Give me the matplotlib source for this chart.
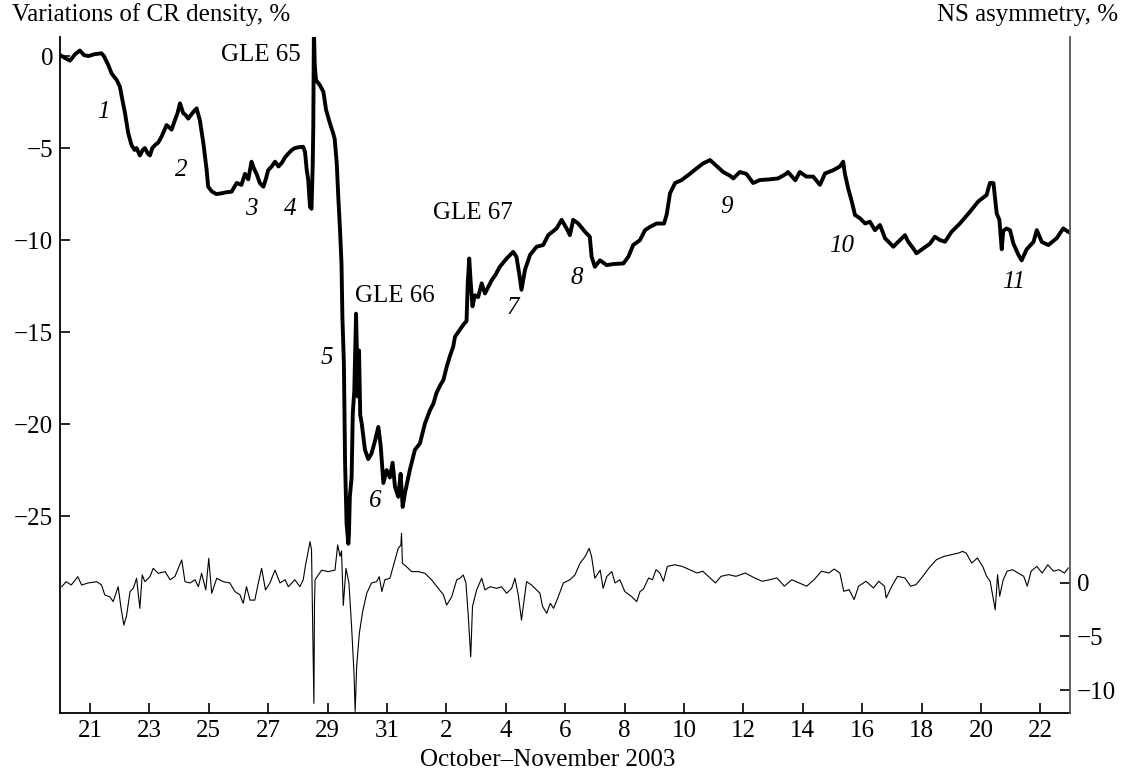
import matplotlib
matplotlib.use("Agg")
import matplotlib.pyplot as plt

# days since 20 Oct 2003 00:00
cr_day = [0.00, 0.15, 0.33, 0.5, 0.66, 0.8, 0.95, 1.15, 1.39, 1.47, 1.62, 1.73, 1.9, 2.01, 2.07,
          2.18, 2.29, 2.4, 2.5, 2.57, 2.68, 2.78, 2.85, 2.95, 3.02, 3.1, 3.19, 3.3, 3.41, 3.58,
          3.75, 3.86, 3.95, 4.03, 4.14, 4.22, 4.31, 4.45, 4.59, 4.7, 4.82, 4.93, 4.98, 5.1, 5.25,
          5.43, 5.6, 5.77, 5.94, 6.1, 6.22, 6.33, 6.44, 6.52, 6.61, 6.72, 6.84, 6.92, 7.0, 7.12,
          7.23, 7.35, 7.46, 7.57, 7.68, 7.8, 7.9, 8.05, 8.18, 8.24, 8.3, 8.35, 8.41, 8.46, 8.5,
          8.52, 8.54, 8.57, 8.61, 8.74, 8.86, 8.95, 9.08, 9.19, 9.24, 9.31, 9.36, 9.42, 9.47, 9.5,
          9.55, 9.59, 9.64, 9.7, 9.72, 9.75, 9.81, 9.85, 9.9, 9.96, 10.0, 10.02, 10.06, 10.1, 10.15,
          10.26, 10.37, 10.48, 10.6, 10.71, 10.79, 10.88, 10.99, 11.1, 11.19, 11.27, 11.38, 11.46,
          11.53, 11.6, 11.77, 11.94, 12.11, 12.28, 12.45, 12.56, 12.67, 12.79, 12.9, 13.01, 13.12,
          13.23, 13.29, 13.4, 13.57, 13.68, 13.72, 13.77, 13.82, 13.88, 13.96, 14.07, 14.19, 14.3,
          14.52, 14.65, 14.8, 15.03, 15.25, 15.36, 15.45, 15.53, 15.65, 15.82, 16.04, 16.26, 16.43,
          16.71, 16.88, 17.05, 17.16, 17.27, 17.44, 17.67, 17.83, 17.89, 18.0, 18.17, 18.4, 18.63,
          18.96, 19.13, 19.29, 19.52, 19.69, 19.86, 20.08, 20.33, 20.42, 20.53, 20.7, 20.92, 21.2,
          21.43, 21.65, 21.88, 22.05, 22.32, 22.55, 22.66, 22.88, 23.1, 23.33, 23.55, 23.89, 24.17,
          24.46, 24.5, 24.75, 24.9, 25.12, 25.35, 25.58, 25.75, 26.03, 26.25, 26.36, 26.42, 26.53,
          26.65, 26.76, 26.93, 27.1, 27.26, 27.43, 27.6, 27.77, 28.05, 28.27, 28.44, 28.55, 28.72,
          28.83, 29.06, 29.28, 29.45, 29.62, 29.79, 30.01, 30.29, 30.63, 30.91, 31.19, 31.3, 31.42,
          31.53, 31.62, 31.7, 31.75, 31.86, 31.98, 32.09, 32.26, 32.37, 32.54, 32.77, 32.88, 33.05,
          33.27, 33.55, 33.77, 33.94, 34.0]
cr_val = [0.05, -0.1, -0.25, 0.1, 0.3, 0.05, 0.0, 0.1, 0.15, 0.0, -0.5, -0.95, -1.3, -1.67, -2.2,
          -3.1, -4.2, -4.84, -5.1, -5.0, -5.4, -5.1, -5.0, -5.3, -5.4, -5.0, -4.84, -4.7, -4.38, -3.75,
          -4.0, -3.48, -3.1, -2.57, -3.1, -3.2, -3.4, -3.1, -2.84, -3.48, -4.75, -6.2, -7.1, -7.35, -7.5,
          -7.46, -7.4, -7.37, -6.9, -7.0, -6.4, -6.7, -5.74, -6.1, -6.4, -6.9, -7.1, -6.7, -6.2, -6.0,
          -5.74, -6.0, -5.8, -5.5, -5.3, -5.1, -5.0, -4.95, -4.93, -5.2, -6.2, -6.74, -8.2, -8.3, -6.0,
          -3.84, 1.5, -0.5, -1.3, -1.58, -1.94, -2.93, -3.65, -4.2, -4.5, -5.83, -7.6, -9.46, -11.3, -14.2,
          -16.7, -22.1, -25.4, -26.5, -26.0, -23.95, -22.9, -19.4, -18.2, -14.0, -17.0, -18.5, -16.0, -19.5, -19.96,
          -21.4, -21.9, -21.6, -20.9, -20.15, -21.2, -23.2, -22.5, -22.9, -22.1, -23.4, -23.95, -22.7,
          -24.5, -23.8, -22.5, -21.4, -21.05, -19.96, -19.24, -18.9, -18.3, -17.9, -17.6, -16.9, -16.3,
          -15.8, -15.26, -15.0, -14.6, -14.4, -12.35, -11.0, -12.3, -13.6, -13.0, -13.1, -12.35, -12.9,
          -12.2, -11.9, -11.45, -11.0, -10.64, -10.9, -11.8, -12.7, -11.6, -10.8, -10.36, -10.27, -9.73,
          -9.37, -8.9, -9.37, -9.73, -8.9, -9.1, -9.55, -9.82, -10.9, -11.45, -11.1, -11.36, -11.3,
          -11.27, -10.9, -10.27, -10.0, -9.46, -9.28, -9.1, -9.1, -8.6, -7.46, -6.9, -6.74, -6.4,
          -6.1, -5.83, -5.65, -5.9, -6.3, -6.5, -6.65, -6.3, -6.4, -6.9, -6.74, -6.7, -6.65,
          -6.38, -6.3, -6.75, -6.3, -6.55, -6.55, -7.0, -6.38, -6.2, -6.0, -5.74, -6.4, -7.2,
          -7.9, -8.64, -8.82, -9.1, -9.0, -9.46, -9.18, -9.9, -10.36, -10.0, -9.73, -10.09, -10.45,
          -10.72, -10.45, -10.2, -9.82, -10.0, -10.09, -9.55, -9.1, -8.46, -7.9, -7.55, -6.9, -6.9,
          -8.55, -8.9, -10.5, -9.5, -9.37, -9.46, -10.18, -10.8, -11.1, -10.5, -10.1, -9.46, -10.1,
          -10.27, -9.9, -9.37, -9.55, -9.6]

ns_day = [0.05, 0.2, 0.37, 0.59, 0.72, 0.94, 1.23, 1.39, 1.5, 1.67, 1.78, 1.95, 2.04, 2.14, 2.23,
          2.35, 2.46, 2.57, 2.68, 2.76, 2.85, 3.02, 3.13, 3.3, 3.53, 3.7, 3.86, 4.09, 4.2, 4.37,
          4.54, 4.65, 4.76, 4.9, 5.0, 5.1, 5.27, 5.49, 5.71, 5.88, 6.05, 6.16, 6.27, 6.39, 6.55,
          6.67, 6.78, 6.91, 7.06, 7.23, 7.4, 7.57, 7.68, 7.9, 8.07, 8.18, 8.26, 8.41, 8.46, 8.5,
          8.54, 8.56, 8.58, 8.8, 9.02, 9.25, 9.34, 9.42, 9.47, 9.53, 9.62, 9.72, 9.81, 9.89, 9.93,
          9.98, 10.07, 10.18, 10.32, 10.48, 10.65, 10.74, 10.83, 10.93, 11.1, 11.27, 11.38, 11.47,
          11.49, 11.52, 11.66, 11.83, 12.06, 12.28, 12.5, 12.73, 12.9, 13.01, 13.18, 13.35, 13.46,
          13.57, 13.66, 13.74, 13.82, 13.88, 14.02, 14.19, 14.3, 14.47, 14.7, 14.86, 15.03, 15.2,
          15.31, 15.42, 15.53, 15.59, 15.7, 15.87, 16.04, 16.15, 16.24, 16.38, 16.5, 16.61, 16.77,
          16.94, 17.16, 17.33, 17.5, 17.67, 17.81, 17.89, 18.0, 18.18, 18.28, 18.4, 18.57, 18.68,
          18.84, 19.01, 19.24, 19.41, 19.52, 19.63, 19.81, 19.94, 20.06, 20.19, 20.31, 20.44, 20.69,
          20.94, 21.19, 21.44, 21.63, 21.88, 22.06, 22.25, 22.5, 22.75, 23.06, 23.38, 23.63, 23.88,
          24.13, 24.38, 24.63, 24.88, 25.13, 25.38, 25.63, 25.88, 26.06, 26.25, 26.38, 26.56, 26.73,
          26.88, 27.13, 27.38, 27.56, 27.75, 27.81, 28.0, 28.19, 28.44, 28.63, 28.81, 29.0, 29.25,
          29.5, 29.75, 30.0, 30.25, 30.38, 30.5, 30.69, 30.88, 31.06, 31.19, 31.31, 31.4, 31.48,
          31.56, 31.63, 31.75, 31.88, 32.06, 32.25, 32.44, 32.56, 32.69, 32.88, 33.06, 33.25, 33.44,
          33.63, 33.81, 33.94]
ns_val = [-0.35, 0.12, -0.19, 0.59, -0.19, 0.0, 0.12, -0.19, -1.12, -1.3, -1.74, -0.35, -2.2, -3.93, -3.1,
          -0.8, -0.5, 0.44, -2.37, 0.75, 0.12, 0.59, 1.37, 0.9, 1.06, 0.3, 0.6, 2.15, 0.12, 0.0,
          0.3, -0.35, 0.9, -0.65, 2.3, -0.96, 0.44, 0.12, 0.0, -0.8, -1.1, -1.9, -0.35, -1.6, -1.6,
          0.0, 1.37, -0.65, 0.0, 1.2, 0.0, 0.3, -0.35, 0.3, -0.35, 0.3, 1.68, 3.86, 3.1, -4.08,
          -11.25, -2.0, 0.3, 1.2, 1.06, 1.2, 3.55, 2.5, 3.0, -2.1, 1.37, 0.0, -4.1, -8.4, -12.0,
          -7.8, -4.7, -2.7, -0.96, 0.0, 0.12, 0.59, -0.8, 0.3, 0.44, 2.15, 3.24, 3.55,
          4.64, 1.85, 1.52, 1.06, 1.06, 0.9, 0.3, -0.5, -1.1, -2.06, -1.3, 0.3, 0.44,
          0.75, 0.0, -3.15, -6.9, -2.2, -0.65, 0.44, -0.65, -0.35, -0.5, -0.35, -0.96, -0.5,
          0.44, -1.1, -3.46, -2.2, 0.12, -0.19, -0.65, -0.96, -2.2, -2.83, -1.9, -2.37, -1.28,
          0.0, 0.3, 0.75, 1.84, 2.46, 3.24, 2.46, 0.44, 1.2, -0.5, 0.6, 1.06, 0.0,
          0.3, -0.8, -1.28, -1.74, -0.8, -0.6, 0.47, 0.3, 1.24, 0.93, 0.16, 1.55, 1.7,
          1.55, 1.24, 0.93, 1.1, 0.47, 0.0, 0.62, 0.78, 0.62, 0.93, 0.47, 0.16, 0.3,
          0.47, -0.3, 0.3, 0.0, -0.3, 0.3, 1.1, 0.93, 1.3, 0.93, -0.78, -0.62, -1.55,
          -0.3, 0.16, -0.47, 0.16, -0.3, -1.4, -0.3, 0.62, 0.47, -0.3, -0.16, 0.47, 1.4,
          2.17, 2.48, 2.64, 2.8, 2.95, 2.8, 1.86, 2.33, 1.55, 0.62, 0.16, -1.24, -2.5,
          0.78, -1.24, 0.3, 1.1, 1.24, 0.93, 0.62, -0.3, 1.1, 1.55, 0.93, 1.7, 1.1,
          1.24, 0.93, 1.4]

x_ticks = [1, 3, 5, 7, 9, 11, 13, 15, 17, 19, 21, 23, 25, 27, 29, 31, 33]
x_labels = ["21", "23", "25", "27", "29", "31", "2", "4", "6", "8", "10",
            "12", "14", "16", "18", "20", "22"]

# event labels: (text, day, CR value, italic)
labels = [("GLE 65", 6.76, 0.05, False), ("GLE 66", 11.27, -13.05, False),
          ("GLE 67", 13.9, -8.55, False),
          ("1", 1.44, -3.04, True), ("2", 4.08, -6.2, True), ("3", 6.42, -8.3, True),
          ("4", 7.73, -8.3, True), ("5", 8.98, -16.4, True), ("6", 10.6, -24.2, True),
          ("7", 15.24, -13.7, True), ("8", 17.4, -12.07, True), ("9", 22.44, -8.19, True),
          ("10", 26.3, -10.3, True), ("11", 32.1, -12.28, True)]

plt.rcParams['font.family'] = ['Liberation Serif', 'DejaVu Serif']
FS = 18

fig = plt.figure(figsize=(11.22, 7.73), dpi=100)
ax = fig.add_axes([0.0537, 0.0776, 0.9, 0.8744])
ax.plot(cr_day, cr_val, color='black', lw=2.8)
ax.set_xlim(0, 34)
ax.set_ylim(-35.7, 1.03)
ax.set_yticks([0, -5, -10, -15, -20, -25])
ax.set_xticks(x_ticks)
ax.set_xticklabels(x_labels)
ax.tick_params(direction='in', length=7, width=1.2, labelsize=FS, pad=5)
ax.spines['top'].set_visible(False)
ax.spines['right'].set_visible(False)
for s in ['left', 'bottom']:
    ax.spines[s].set_linewidth(1.3)

for txt, d, v, it in labels:
    ax.text(d, v, txt, fontsize=FS, ha='center', va='center',
            style='italic' if it else 'normal')

ax2 = ax.twinx()
ax2.plot(ns_day, ns_val, color='black', lw=0.8)
ax2.set_ylim(-12.15, 51.0)
ax2.set_yticks([0, -5, -10])
ax2.tick_params(direction='in', length=7, width=1.2, labelsize=FS, pad=5)
ax2.spines['top'].set_visible(False)
ax2.spines['left'].set_visible(False)
ax2.spines['bottom'].set_visible(False)
ax2.spines['right'].set_color('#555555')
ax2.spines['right'].set_linewidth(1.3)

fig.text(12 / 1122, 1 - 15 / 773, "Variations of CR density, %", fontsize=FS, va='center')
fig.text(1118 / 1122, 1 - 15 / 773, "NS asymmetry, %", fontsize=FS, va='center', ha='right')
fig.text(548 / 1122, 1 - 760 / 773, "October\u2013November 2003", fontsize=FS, va='center', ha='center')

fig.savefig("out.png", dpi=100)
